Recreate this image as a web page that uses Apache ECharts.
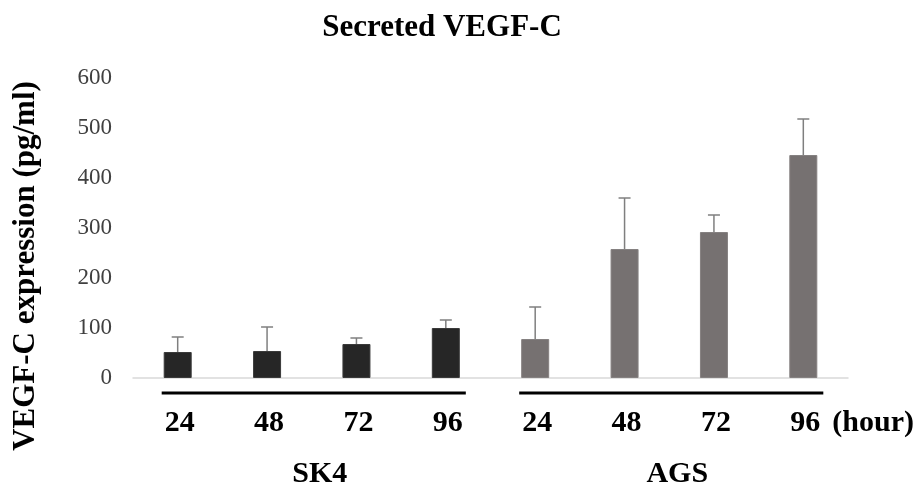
<!DOCTYPE html>
<html>
<head>
<meta charset="utf-8">
<script src="https://cdn.jsdelivr.net/npm/echarts@6/dist/echarts.min.js"></script>
<style>html,body{margin:0;padding:0;background:#fff}#c{width:924px;height:493px}</style>
</head>
<body>
<div id="c"></div>
<script>
const groups = ['SK4', 'AGS'];
const hours = ['24', '48', '72', '96'];
const categories = ['SK4 24', 'SK4 48', 'SK4 72', 'SK4 96', 'AGS 24', 'AGS 48', 'AGS 72', 'AGS 96'];
const sk4Mean = [52, 54, 68, 100];
const sk4Err = [30, 48, 12, 16];
const agsMean = [78, 258, 292, 446];
const agsErr = [64, 102, 34, 72];
const yTicks = [0, 100, 200, 300, 400, 500, 600];

const means = sk4Mean.concat(agsMean);
const errs = sk4Err.concat(agsErr);
const groupColors = ['#262626', '#767171'];
const serif = '"Liberation Serif", "Times New Roman", serif';

const chart = echarts.init(document.getElementById('c'));
chart.setOption({
  animation: false,
  title: {
    text: 'Secreted VEGF-C',
    left: 437, top: 7, textAlign: 'center',
    textStyle: { fontFamily: serif, fontWeight: 'bold', fontSize: 31, color: '#000' }
  },
  grid: { left: 133, right: 76, top: 78, bottom: 115 },
  xAxis: {
    type: 'category',
    data: categories,
    axisLine: { lineStyle: { color: '#d9d9d9', width: 1.5 } },
    axisTick: { show: false },
    axisLabel: {
      margin: 30,
      padding: [0, 0, 0, 4],
      fontFamily: serif, fontWeight: 'bold', fontSize: 30, color: '#000',
      formatter: v => v.split(' ')[1]
    }
  },
  yAxis: {
    type: 'value',
    min: yTicks[0], max: yTicks[yTicks.length - 1], interval: 100,
    axisLine: { show: false },
    axisTick: { show: false },
    splitLine: { show: false },
    axisLabel: { margin: 21, fontFamily: serif, fontSize: 23, color: '#404040' }
  },
  series: [
    {
      type: 'bar',
      barWidth: 28,
      data: means.map((v, i) => ({
        value: v,
        itemStyle: { color: groupColors[i < 4 ? 0 : 1], borderColor: i < 4 ? '#3a3a3a' : '#858181', borderWidth: 1 }
      }))
    },
    {
      type: 'custom',
      z: 1,
      data: means.map((v, i) => [i, v, v + errs[i]]),
      renderItem: function (params, api) {
        const lo = api.coord([api.value(0), api.value(1)]);
        const hi = api.coord([api.value(0), api.value(2)]);
        const cap = 6;
        return {
          type: 'group',
          children: [
            { type: 'line', shape: { x1: lo[0], y1: lo[1], x2: hi[0], y2: hi[1] }, style: { stroke: '#7f7f7f', lineWidth: 1.5 } },
            { type: 'line', shape: { x1: hi[0] - cap, y1: hi[1], x2: hi[0] + cap, y2: hi[1] }, style: { stroke: '#7f7f7f', lineWidth: 1.5 } }
          ]
        };
      }
    }
  ]
});

// group underlines, group names and unit, placed through the axis scales
const axisY = chart.convertToPixel({ yAxisIndex: 0 }, 0);
const gfx = [];
groups.forEach((g, gi) => {
  const first = chart.convertToPixel({ xAxisIndex: 0 }, gi * 4);
  const last = chart.convertToPixel({ xAxisIndex: 0 }, gi * 4 + 3);
  const x1 = first - 16, x2 = last + 20;
  gfx.push({ type: 'line', shape: { x1: x1, y1: axisY + 15, x2: x2, y2: axisY + 15 }, style: { stroke: '#000', lineWidth: 3 } });
  gfx.push({ type: 'text', x: (x1 + x2) / 2 + 6, y: axisY + 96, style: { text: g, font: 'bold 30px ' + serif, fill: '#000', textAlign: 'center', textVerticalAlign: 'middle' } });
});
const lastC = chart.convertToPixel({ xAxisIndex: 0 }, 7);
gfx.push({ type: 'text', x: lastC + 29, y: axisY + 45, style: { text: '(hour)', font: 'bold 30px ' + serif, fill: '#000', textAlign: 'left', textVerticalAlign: 'middle' } });
const topY = chart.convertToPixel({ yAxisIndex: 0 }, 600);
gfx.push({ type: 'text', x: 26, y: (axisY + topY) / 2 + 38, rotation: Math.PI / 2, style: { text: 'VEGF-C expression (pg/ml)', font: 'bold 31px ' + serif, fill: '#000', textAlign: 'center', textVerticalAlign: 'middle' } });
chart.setOption({ graphic: gfx });
</script>
</body>
</html>
